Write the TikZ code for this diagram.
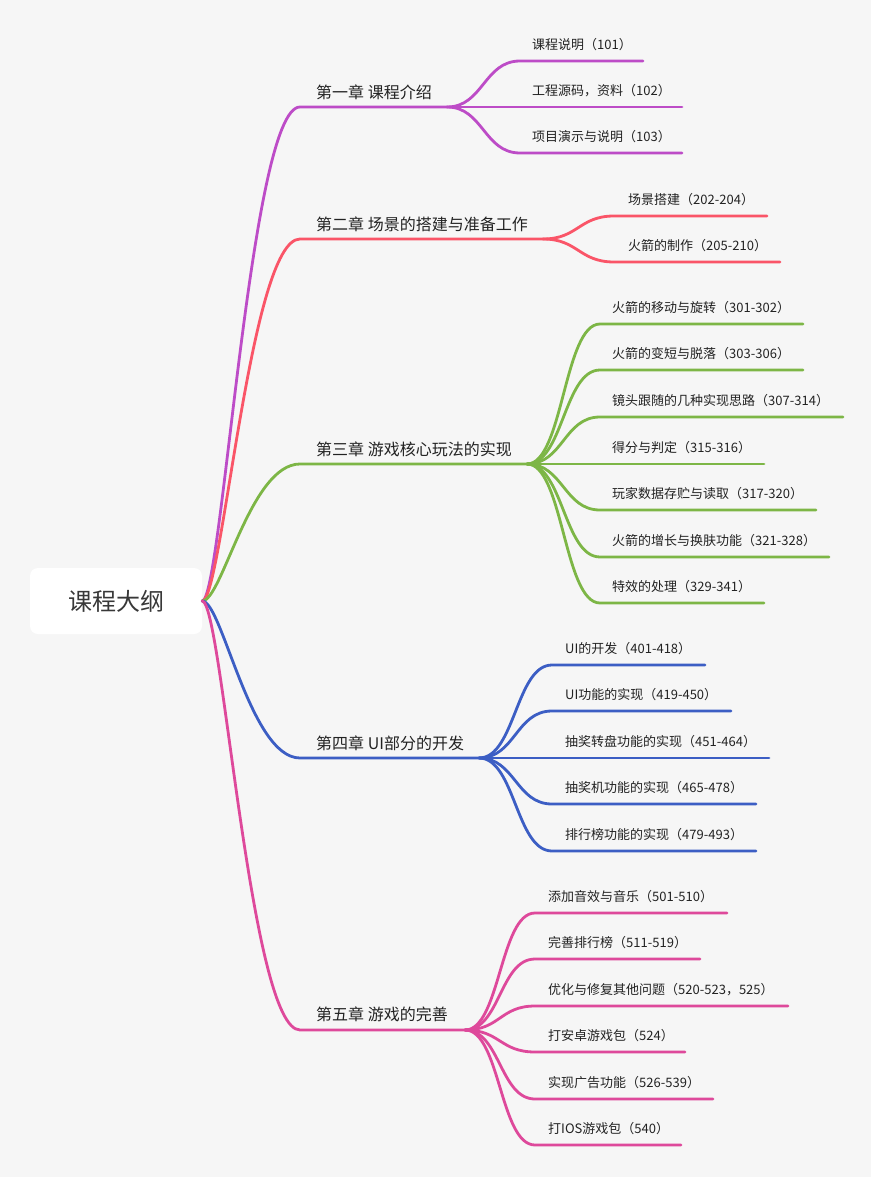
\documentclass[tikz,border=0pt]{standalone}
\usepackage{fontspec}
\setmainfont{Noto Sans CJK SC}
\usepackage{tikz}
\usetikzlibrary{calc}

\definecolor{bgcol}{RGB}{246,246,246}
\definecolor{txtcol}{RGB}{34,34,34}
\definecolor{colA}{RGB}{189,76,199}
\definecolor{colB}{RGB}{250,85,104}
\definecolor{colC}{RGB}{125,182,70}
\definecolor{colD}{RGB}{60,94,196}
\definecolor{colE}{RGB}{222,73,155}

\begin{document}
\begin{tikzpicture}[x=1pt,y=-1pt,
    rootbox/.style={fill=white,rounded corners=8pt,minimum width=172pt,minimum height=66pt,inner sep=0pt,text=txtcol!90,font=\fontsize{24}{28}\selectfont},
    chap/.style={anchor=west,inner sep=0pt,text=txtcol,font=\fontsize{16}{19}\selectfont},
    leaf/.style={anchor=west,inner sep=0pt,text=txtcol,font=\fontsize{13}{16}\selectfont},
    branch/.style={line width=2.8pt,line cap=round}]

	\useasboundingbox[fill=bgcol] (0,0) rectangle (871,1177);

	% root
	\node[rootbox] (root) at (116,601) {课程大纲};

	% chapter 1
	\coordinate (a0) at (300,107);
	\coordinate (ja) at (447,107);
	\node[chap] (cha) at (316,92) {第一章 课程介绍};
	\draw[branch,colA] (root.east) .. controls +(20,0) and +(-50,0) .. (a0) -- (ja);
	\foreach \y/\e/\t [count=\i] in {61/643/{课程说明（101）},107/682/{工程源码，资料（102）},153/682/{项目演示与说明（103）}}{
		\coordinate (as\i) at (520,\y);
		\coordinate (ae\i) at (\e,\y);
		\node[leaf] (at\i) at (532,\y-16) {\t};
		\draw[branch,colA] (ja) .. controls +(36,0) and +(-36,0) .. (as\i) -- (ae\i);
	}

	% chapter 2
	\coordinate (b0) at (300,239);
	\coordinate (jb) at (543,239);
	\node[chap] (chb) at (316,224) {第二章 场景的搭建与准备工作};
	\draw[branch,colB] (root.east) .. controls +(20,0) and +(-50,0) .. (b0) -- (jb);
	\foreach \y/\e/\t [count=\i] in {216/767/{场景搭建（202-204）},262/780/{火箭的制作（205-210）}}{
		\coordinate (bs\i) at (614,\y);
		\coordinate (be\i) at (\e,\y);
		\node[leaf] (bt\i) at (628,\y-16) {\t};
		\draw[branch,colB] (jb) .. controls +(35,0) and +(-35,0) .. (bs\i) -- (be\i);
	}

	% chapter 3
	\coordinate (c0) at (300,464);
	\coordinate (jc) at (527,464);
	\node[chap] (chc) at (316,449) {第三章 游戏核心玩法的实现};
	\draw[branch,colC] (root.east) .. controls +(20,0) and +(-50,0) .. (c0) -- (jc);
	\foreach \y/\e/\t [count=\i] in {324/803/{火箭的移动与旋转（301-302）},370/803/{火箭的变短与脱落（303-306）},417/843/{镜头跟随的几种实现思路（307-314）},464/764/{得分与判定（315-316）},510/816/{玩家数据存贮与读取（317-320）},557/829/{火箭的增长与换肤功能（321-328）},603/764/{特效的处理（329-341）}}{
		\coordinate (cs\i) at (600,\y);
		\coordinate (ce\i) at (\e,\y);
		\node[leaf] (ct\i) at (612,\y-16) {\t};
		\draw[branch,colC] (jc) .. controls +(36,0) and +(-36,0) .. (cs\i) -- (ce\i);
	}

	% chapter 4
	\coordinate (d0) at (300,758);
	\coordinate (jd) at (479,758);
	\node[chap] (chd) at (316,743) {第四章 UI部分的开发};
	\draw[branch,colD] (root.east) .. controls +(20,0) and +(-50,0) .. (d0) -- (jd);
	\foreach \y/\e/\t [count=\i] in {665/705/{UI的开发（401-418）},711/731/{UI功能的实现（419-450）},758/769/{抽奖转盘功能的实现（451-464）},804/756/{抽奖机功能的实现（465-478）},851/756/{排行榜功能的实现（479-493）}}{
		\coordinate (ds\i) at (552,\y);
		\coordinate (de\i) at (\e,\y);
		\node[leaf] (dt\i) at (565,\y-16) {\t};
		\draw[branch,colD] (jd) .. controls +(36,0) and +(-36,0) .. (ds\i) -- (de\i);
	}

	% chapter 5
	\coordinate (e0) at (300,1030);
	\coordinate (je) at (465,1030);
	\node[chap] (che) at (316,1014) {第五章 游戏的完善};
	\draw[branch,colE] (root.east) .. controls +(20,0) and +(-50,0) .. (e0) -- (je);
	\foreach \y/\e/\t [count=\i] in {913/727/{添加音效与音乐（501-510）},959/700/{完善排行榜（511-519）},1006/788/{优化与修复其他问题（520-523，525）},1052/685/{打安卓游戏包（524）},1099/713/{实现广告功能（526-539）},1145/681/{打IOS游戏包（540）}}{
		\coordinate (es\i) at (535,\y);
		\coordinate (ee\i) at (\e,\y);
		\node[leaf] (et\i) at (548,\y-16) {\t};
		\draw[branch,colE] (je) .. controls +(35,0) and +(-35,0) .. (es\i) -- (ee\i);
	}

\end{tikzpicture}
\end{document}
